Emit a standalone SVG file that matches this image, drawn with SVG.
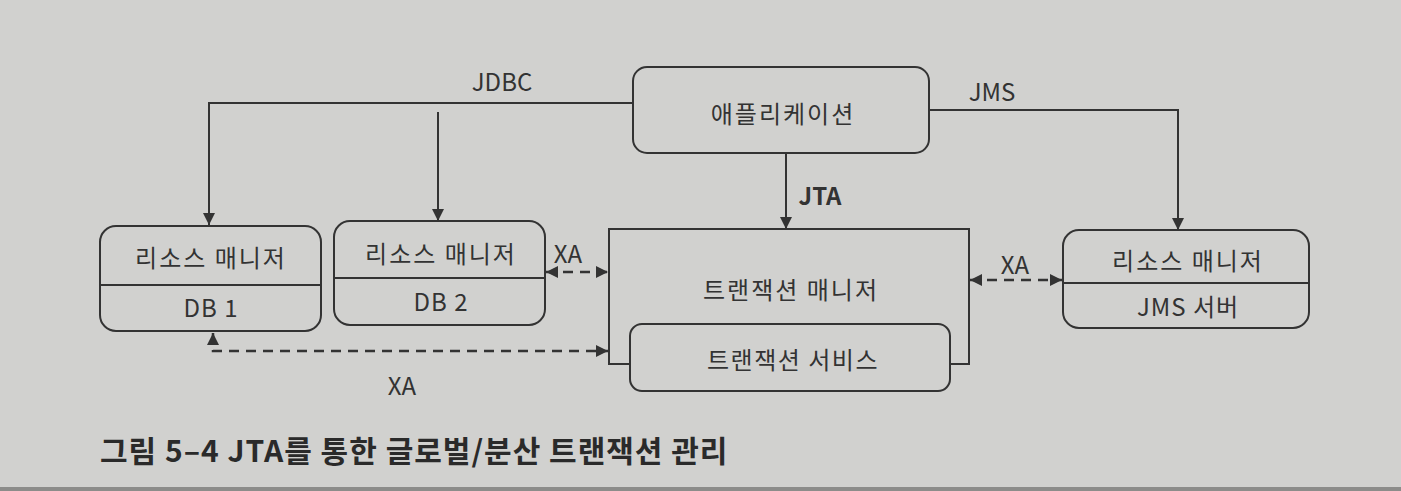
<svg xmlns="http://www.w3.org/2000/svg" width="1401" height="491" viewBox="0 0 1401 491">
  <style>
    .box { fill: none; stroke: #333; stroke-width: 2; }
    .line { fill: none; stroke: #333; stroke-width: 2; }
    .dash { fill: none; stroke: #333; stroke-width: 2.5; stroke-dasharray: 10 7; }
    .lbl { font-family: "Noto Sans CJK KR", "Noto Sans", sans-serif; font-size: 24px; fill: #333; text-anchor: middle; dominant-baseline: central; }
    .ko { letter-spacing: 2px; }
    .cap { font-family: "Noto Sans CJK KR", "Noto Sans", sans-serif; font-size: 30px; font-weight: bold; fill: #2a2a2a; dominant-baseline: central; letter-spacing: 1px; }
  </style>
  <defs>
    <marker id="arr" viewBox="0 0 12 12" refX="12" refY="6" markerWidth="12" markerHeight="12" markerUnits="userSpaceOnUse" orient="auto-start-reverse">
      <path d="M0,0 L12,6 L0,12 z" fill="#333"/>
    </marker>
  </defs>
  <rect x="0" y="0" width="1401" height="491" fill="#d1d1cf"/>
  <rect x="0" y="487" width="1401" height="4" fill="#8c8c8a"/>

  <g id="connectors">
    <path class="line" d="M633,103 H209 V225" marker-end="url(#arr)"/>
    <path class="line" d="M438,112 V221" marker-end="url(#arr)"/>
    <path class="line" d="M929,110 H1178 V230" marker-end="url(#arr)"/>
    <path class="line" d="M786,153 V229" marker-end="url(#arr)"/>
    <path class="dash" d="M546,272 H608" marker-start="url(#arr)" marker-end="url(#arr)"/>
    <path class="dash" d="M970,280 H1062" marker-start="url(#arr)" marker-end="url(#arr)"/>
    <path class="dash" d="M213,333 V351 H608" marker-start="url(#arr)" marker-end="url(#arr)"/>
    <text class="lbl" x="502" y="80" font-size="23">JDBC</text>
    <text class="lbl" x="992" y="90" font-size="23">JMS</text>
    <text class="lbl" x="820" y="194" font-size="23" font-weight="bold">JTA</text>
    <text class="lbl" x="568" y="252">XA</text>
    <text class="lbl" x="1015" y="263">XA</text>
    <text class="lbl" x="402" y="384">XA</text>
  </g>

  <g id="app">
    <rect class="box" x="633" y="67" width="296" height="86" rx="14"/>
    <text class="lbl ko" x="783" y="112">애플리케이션</text>
  </g>

  <g id="rm-db1">
    <rect class="box" x="100" y="226" width="221" height="105" rx="16"/>
    <line class="line" x1="100" y1="285" x2="321" y2="285"/>
    <text class="lbl ko" x="211" y="256">리소스 매니저</text>
    <text class="lbl" x="211" y="306" letter-spacing="1">DB 1</text>
  </g>

  <g id="rm-db2">
    <rect class="box" x="334" y="221" width="211" height="104" rx="16"/>
    <line class="line" x1="334" y1="278" x2="545" y2="278"/>
    <text class="lbl ko" x="441" y="252">리소스 매니저</text>
    <text class="lbl" x="441" y="300" letter-spacing="1">DB 2</text>
  </g>

  <g id="tm">
    <path class="box" d="M630,364 H609 V229 H969 V364 H950"/>
    <text class="lbl ko" x="791" y="288" font-size="25" letter-spacing="2.5">트랜잭션 매니저</text>
  </g>

  <g id="ts">
    <rect class="box" x="630" y="324" width="320" height="67" rx="12"/>
    <text class="lbl" x="793" y="358" font-size="21" letter-spacing="1.5">트랜잭션 서비스</text>
  </g>

  <g id="rm-jms">
    <rect class="box" x="1063" y="230" width="246" height="98" rx="16"/>
    <line class="line" x1="1063" y1="283" x2="1309" y2="283"/>
    <text class="lbl ko" x="1188" y="259">리소스 매니저</text>
    <text class="lbl" x="1188" y="305" letter-spacing="1">JMS 서버</text>
  </g>

  <g id="caption">
    <text class="cap" x="100" y="449">그림 5–4 JTA를 통한 글로벌/분산 트랜잭션 관리</text>
  </g>
</svg>
